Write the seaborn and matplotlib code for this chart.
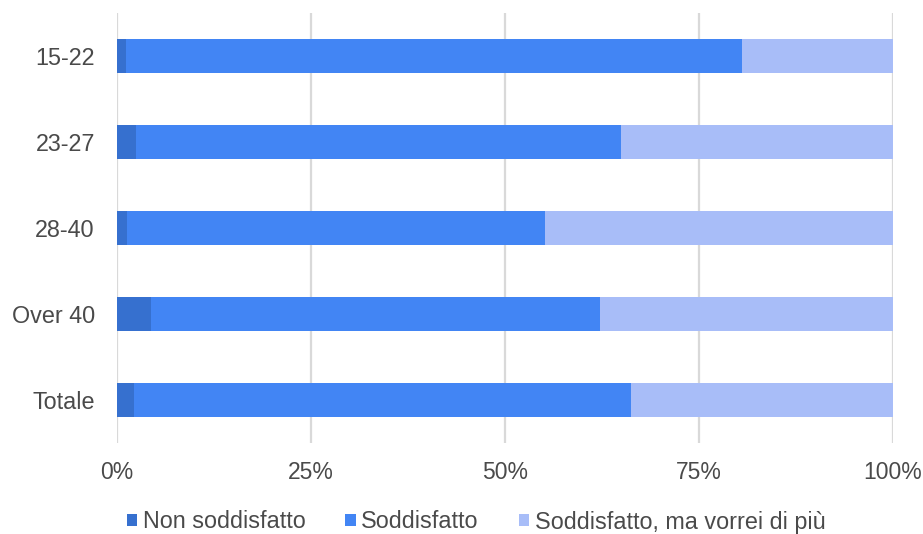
import matplotlib
matplotlib.use("Agg")
import matplotlib.pyplot as plt
from matplotlib.patches import Patch
import numpy as np
import seaborn as sns

# Age groups and shares of answers (percent of respondents)
categories = ["15-22", "23-27", "28-40", "Over 40", "Totale"]
non_soddisfatto = [1.1, 2.4, 1.3, 4.4, 2.2]
soddisfatto = [79.5, 62.6, 53.9, 57.8, 64.0]
vorrei_di_piu = [19.4, 35.0, 44.8, 37.8, 33.8]

series_names = ["Non soddisfatto", "Soddisfatto", "Soddisfatto, ma vorrei di più"]
series_colors = ["#3670cf", "#4285f4", "#a8bdf8"]
tick_values = [0, 25, 50, 75, 100]
tick_labels = ["0%", "25%", "50%", "75%", "100%"]

sns.set_theme(style="white")
plt.rcParams["font.family"] = ["Liberation Sans", "DejaVu Sans"]
text_color = "#4a4a4a"

fig = plt.figure(figsize=(9.23, 5.34), dpi=100)
ax = fig.add_axes([117 / 923, 1 - 443 / 534, (893 - 117) / 923, (443 - 13) / 534])

# Stacked bars: draw cumulative totals from the widest to the narrowest
stack = np.cumsum(np.array([non_soddisfatto, soddisfatto, vorrei_di_piu]), axis=0)
for level in range(2, -1, -1):
    sns.barplot(x=stack[level], y=categories, orient="h", color=series_colors[level],
                width=0.4, saturation=1, ax=ax, zorder=3, linewidth=0)

ax.set_xlim(0, 100)
ax.set_ylim(4.5, -0.5)
ax.set_xticks(tick_values)
ax.set_xticklabels(tick_labels)
ax.set_xlabel("")
ax.set_ylabel("")
for s in ax.spines.values():
    s.set_visible(False)
ax.grid(False)
for v in tick_values:
    ax.axvline(v, color="#d9d9d9", lw=1.6, zorder=1)
ax.tick_params(axis="x", length=0, pad=13, labelsize=16.5, labelcolor=text_color)
ax.tick_params(axis="y", length=0, pad=16, labelsize=16.8, labelcolor=text_color)

handles = [Patch(facecolor=c, edgecolor="none") for c in series_colors]
fig.legend(handles, series_names, loc="center", bbox_to_anchor=(476 / 923, 1 - 522 / 534),
           ncol=3, frameon=False, fontsize=16.8, labelcolor=text_color,
           handlelength=0.45, handleheight=0.45, handletextpad=0.24, columnspacing=1.7,
           borderpad=0, borderaxespad=0)

fig.savefig("out.png", dpi=100)
